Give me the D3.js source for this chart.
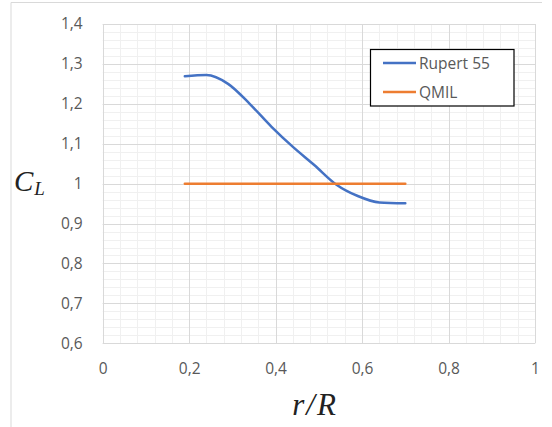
<!DOCTYPE html>
<html><head><meta charset="utf-8">
<script src="https://cdn.jsdelivr.net/npm/d3@7"></script>
<style>body{margin:0;background:#fff}svg{display:block}</style>
</head><body>
<script>
const rupertX = [0.19, 0.24, 0.29, 0.34, 0.39, 0.44, 0.49, 0.54, 0.59, 0.64, 0.70];
const rupertY = [1.269, 1.272, 1.250, 1.200, 1.143, 1.092, 1.046, 0.998, 0.969, 0.953, 0.951];
const qmilX = [0.19, 0.70];
const qmilY = [1.0, 1.0];
const xTicks = [0, 0.2, 0.4, 0.6, 0.8, 1];
const yTicks = [0.6, 0.7, 0.8, 0.9, 1.0, 1.1, 1.2, 1.3, 1.4];
const seriesNames = ["Rupert 55", "QMIL"];
const colors = ["#4472c4", "#ed7d31"];

const W = 552, H = 427;
const svg = d3.select("body").append("svg").attr("width", W).attr("height", H);
const x = d3.scaleLinear().domain([0, 1]).range([102.7, 535]);
const y = d3.scaleLinear().domain([0.6, 1.4]).range([343.3, 24]);

// outer chart frame (top/left)
svg.append("line").attr("x1", 11).attr("x2", 542).attr("y1", 2.5).attr("y2", 2.5).attr("stroke", "#d9d9d9");
svg.append("line").attr("x1", 11).attr("x2", 11).attr("y1", 2.5).attr("y2", H).attr("stroke", "#d9d9d9");

const fmt = v => d3.format("~g")(v).replace(".", ",");

// minor grid
const g = svg.append("g");
const xMinor = d3.range(0, 1.0001, 0.04);
const yMinor = d3.range(0.6, 1.4001, 0.02);
g.selectAll(".xm").data(xMinor).join("line")
  .attr("x1", d => Math.round(x(d)) + 0.5).attr("x2", d => Math.round(x(d)) + 0.5)
  .attr("y1", y(1.4)).attr("y2", y(0.6)).attr("stroke", "#f0f0f0");
g.selectAll(".ym").data(yMinor).join("line")
  .attr("y1", d => Math.round(y(d)) + 0.5).attr("y2", d => Math.round(y(d)) + 0.5)
  .attr("x1", x(0)).attr("x2", x(1)).attr("stroke", "#f0f0f0");
// major grid
g.selectAll(".xM").data(xTicks).join("line")
  .attr("x1", d => Math.round(x(d)) + 0.5).attr("x2", d => Math.round(x(d)) + 0.5)
  .attr("y1", y(1.4)).attr("y2", y(0.6)).attr("stroke", "#d9d9d9");
g.selectAll(".yM").data(yTicks).join("line")
  .attr("y1", d => Math.round(y(d)) + 0.5).attr("y2", d => Math.round(y(d)) + 0.5)
  .attr("x1", x(0)).attr("x2", x(1)).attr("stroke", "#d9d9d9");

// axes labels via d3 axes
const xAxis = svg.append("g").attr("transform", `translate(0,${y(0.6)})`)
  .call(d3.axisBottom(x).tickValues(xTicks).tickFormat(fmt).tickSize(0).tickPadding(20));
const yAxis = svg.append("g").attr("transform", `translate(${x(0)},0)`)
  .call(d3.axisLeft(y).tickValues(yTicks).tickFormat(fmt).tickSize(0).tickPadding(20));
[xAxis, yAxis].forEach(a => {
  a.select(".domain").remove();
  a.selectAll("text").attr("font-family", "'Open Sans', sans-serif").attr("font-size", 15.5).attr("fill", "#595959");
});

// series
const line = d3.line().x(d => x(d[0])).y(d => y(d[1])).curve(d3.curveMonotoneX);
svg.append("path").datum(rupertX.map((v, i) => [v, rupertY[i]]))
  .attr("d", line).attr("fill", "none").attr("stroke", colors[0]).attr("stroke-width", 2.5).attr("stroke-linecap", "round");
svg.append("path").datum(qmilX.map((v, i) => [v, qmilY[i]]))
  .attr("d", d3.line().x(d => x(d[0])).y(d => y(d[1]))).attr("fill", "none").attr("stroke", colors[1]).attr("stroke-width", 2.5).attr("stroke-linecap", "round");

// legend
const lg = svg.append("g");
lg.append("rect").attr("x", 370.5).attr("y", 49.5).attr("width", 143.5).attr("height", 56.5)
  .attr("fill", "#fff").attr("stroke", "#000").attr("stroke-width", 1.2);
seriesNames.forEach((n, i) => {
  const yy = 63 + i * 29;
  lg.append("line").attr("x1", 383).attr("x2", 416).attr("y1", yy).attr("y2", yy)
    .attr("stroke", colors[i]).attr("stroke-width", 2.5);
  lg.append("text").attr("x", 419).attr("y", yy + 5.5).text(n)
    .attr("font-family", "'Open Sans', sans-serif").attr("font-size", 15.5).attr("fill", "#595959");
});

// axis titles
const yt = svg.append("text").attr("x", 14).attr("y", 191)
  .attr("font-family", "'Liberation Serif', serif").attr("font-style", "italic").attr("font-size", 29).attr("fill", "#222");
yt.append("tspan").text("C");
yt.append("tspan").attr("font-size", 19).attr("dy", 4).attr("dx", 1).text("L");
const xt = svg.append("text").attr("x", 314).attr("y", 415).attr("text-anchor", "middle")
  .attr("font-family", "'Liberation Serif', serif").attr("font-style", "italic").attr("font-size", 31).attr("fill", "#222");
xt.append("tspan").text("r");
xt.append("tspan").attr("dx", 2).text("/");
xt.append("tspan").attr("dx", 2).text("R");
</script>
</body></html>
